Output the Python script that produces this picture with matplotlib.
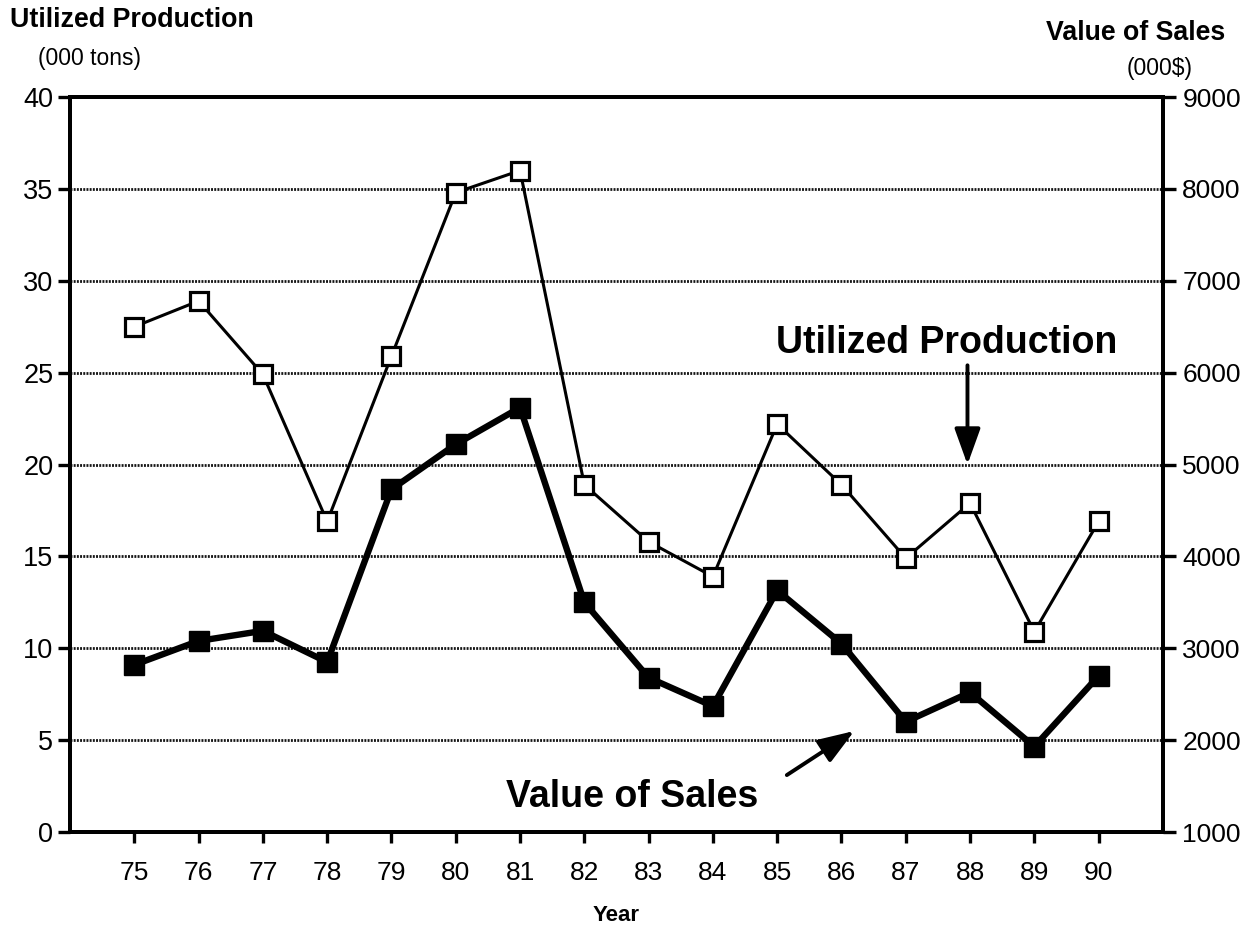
import matplotlib
matplotlib.use("Agg")
import matplotlib.pyplot as plt

plt.rcParams['font.family'] = ['Liberation Sans', 'DejaVu Sans']

years = [75, 76, 77, 78, 79, 80, 81, 82, 83, 84, 85, 86, 87, 88, 89, 90]
year_labels = [str(y) for y in years]

# utilized production, 000 tons (left axis)
production = [27.5, 28.9, 24.9, 16.9, 25.9, 34.8, 36.0, 18.9,
              15.8, 13.9, 22.2, 18.9, 14.9, 17.9, 10.9, 16.9]

# value of sales, 000$ (right axis)
sales = [2820, 3080, 3190, 2850, 4730, 5220, 5620, 3500,
         2680, 2370, 3630, 3050, 2200, 2520, 1930, 2700]

left_ticks = list(range(0, 41, 5))
right_ticks = list(range(1000, 9001, 1000))

fig = plt.figure(figsize=(12.53, 9.25), dpi=100)
ax = fig.add_axes([0.0559, 0.1005, 0.8722, 0.7946])
ax2 = ax.twinx()

ax.set_xlim(74, 91)
ax.set_ylim(0, 40)
ax2.set_ylim(1000, 9000)

# dotted horizontal grid at every 5 units
for v in left_ticks[1:-1]:
    ax.axhline(v, color='#151515', lw=2.0, ls=(0, (0.7, 0.45)), zorder=1)

ax.plot(years, production, color='black', lw=2.2, marker='s', markersize=13,
        markerfacecolor='white', markeredgecolor='black', markeredgewidth=2.3,
        zorder=3)
ax2.plot(years, sales, color='black', lw=4.6, marker='s', markersize=14,
         markerfacecolor='black', markeredgecolor='black', zorder=3)

ax.set_xticks(years)
ax.set_xticklabels(year_labels)
ax.set_yticks(left_ticks)
ax2.set_yticks(right_ticks)

for a in (ax, ax2):
    for s in a.spines.values():
        s.set_linewidth(2.8)
ax.tick_params(axis='y', direction='out', length=9, width=2.4,
               labelsize=19.5, pad=3)
ax.tick_params(axis='x', direction='out', length=8, width=2.4,
               labelsize=19, pad=13)
ax2.tick_params(axis='y', direction='out', length=9, width=2.4,
                labelsize=19, pad=5)

ax.set_xlabel('Year', fontsize=16, fontweight='bold', labelpad=14)

fig.text(0.008, 0.978, 'Utilized Production', fontsize=19.3,
         fontweight='bold', va='center', ha='left')
fig.text(0.030, 0.937, '(000 tons)', fontsize=16.5, va='center', ha='left')
fig.text(0.978, 0.964, 'Value of Sales', fontsize=19.3,
         fontweight='bold', va='center', ha='right')
fig.text(0.952, 0.926, '(000$)', fontsize=16.5, va='center', ha='right')

# in-plot labels with arrows
arrow = dict(arrowstyle='-|>,head_length=1.0,head_width=0.36', color='black',
             lw=2.8, mutation_scale=22, shrinkA=0, shrinkB=0)
ax.text(87.63, 26.6, 'Utilized Production', fontsize=27, fontweight='bold',
        ha='center', va='center')
ax.annotate('', xy=(87.96, 20.0), xytext=(87.96, 25.4), arrowprops=arrow)
ax.text(82.75, 1.9, 'Value of Sales', fontsize=27, fontweight='bold',
        ha='center', va='center')
ax.annotate('', xy=(86.2, 5.5), xytext=(85.15, 3.1), arrowprops=arrow)

fig.savefig('out.png', dpi=100)
